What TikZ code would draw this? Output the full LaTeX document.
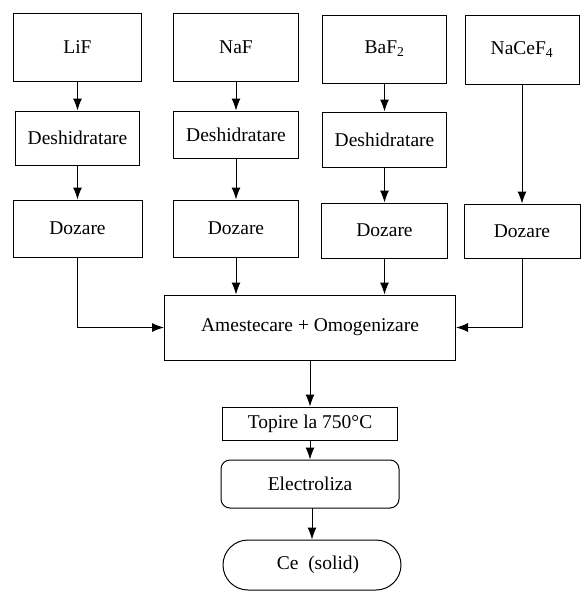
\documentclass[tikz,border=0pt]{standalone}
\usepackage{fontspec}
\setmainfont{Liberation Serif}
\usetikzlibrary{arrows.meta}

\begin{document}
\begin{tikzpicture}[x=1pt, y=1pt, line width=1pt,
    box/.style = {draw, inner sep=0pt, minimum height=68pt, font=\fontsize{19.5}{23}\selectfont},
    rbox/.style = {box, rounded corners=9pt},
    term/.style = {box, rounded corners=25pt},
    arr/.style = {-{Latex[length=12pt,width=9pt]}}]
            \useasboundingbox (0,0) rectangle (581,-592);

            % materii prime
            \node[box, minimum width=128pt] (lif) at (77.5,-47) {LiF};
            \node[box, minimum width=125pt] (naf) at (236,-47) {NaF};
            \node[box, minimum width=124pt] (baf) at (384.5,-49) {BaF\textsubscript{2}};
            \node[box, minimum width=114pt, minimum height=69pt] (nacef) at (522,-49.5) {NaCeF\textsubscript{4}};

            \node[box, minimum width=124pt, minimum height=54pt] (deslif) at (77.5,-138) {Deshidratare};
            \node[box, minimum width=125pt, minimum height=47pt] (desnaf) at (236,-134.5) {Deshidratare};
            \node[box, minimum width=124pt, minimum height=55pt] (desbaf) at (384.5,-139.5) {Deshidratare};

            \node[box, minimum width=129pt, minimum height=57pt] (dozlif) at (77.5,-228.5) {Dozare};
            \node[box, minimum width=125pt, minimum height=57pt] (doznaf) at (236,-228.5) {Dozare};
            \node[box, minimum width=126pt, minimum height=55pt] (dozbaf) at (384.5,-230.5) {Dozare};
            \node[box, minimum width=116pt, minimum height=54pt] (doznacef) at (522,-231) {Dozare};

            \node[box, minimum width=291pt, minimum height=65pt] (mix) at (310,-327.5) {Amestecare + Omogenizare};
            \node[box, minimum width=175pt, minimum height=33pt] (topire) at (310,-423.5) {Topire la 750°C};
            \node[rbox, minimum width=178pt, minimum height=48pt] (electro) at (310,-484) {Electroliza};
            \node[term, minimum width=178pt, minimum height=50pt] (ce) at (312,-565) {\hspace*{12pt}Ce\enspace(solid)};

            \path[arr] (lif) edge (deslif);
            \path[arr] (deslif) edge (dozlif);
            \path[arr] (naf) edge (desnaf);
            \path[arr] (desnaf) edge (doznaf);
            \path[arr] (baf) edge (desbaf);
            \path[arr] (desbaf) edge (dozbaf);
            \path[arr] (nacef) edge (doznacef);

            \draw[arr] (dozlif) |- (mix);
            \draw[arr] (doznaf) -- (doznaf |- mix.north);
            \draw[arr] (dozbaf) -- (dozbaf |- mix.north);
            \draw[arr] (doznacef) |- (mix);

            \path[arr] (mix) edge (topire);
            \path[arr] (topire) edge (electro);
            \draw[arr] (electro) -- (electro.south -| ce.north) -- (ce.north);
        \end{tikzpicture}
\end{document}
